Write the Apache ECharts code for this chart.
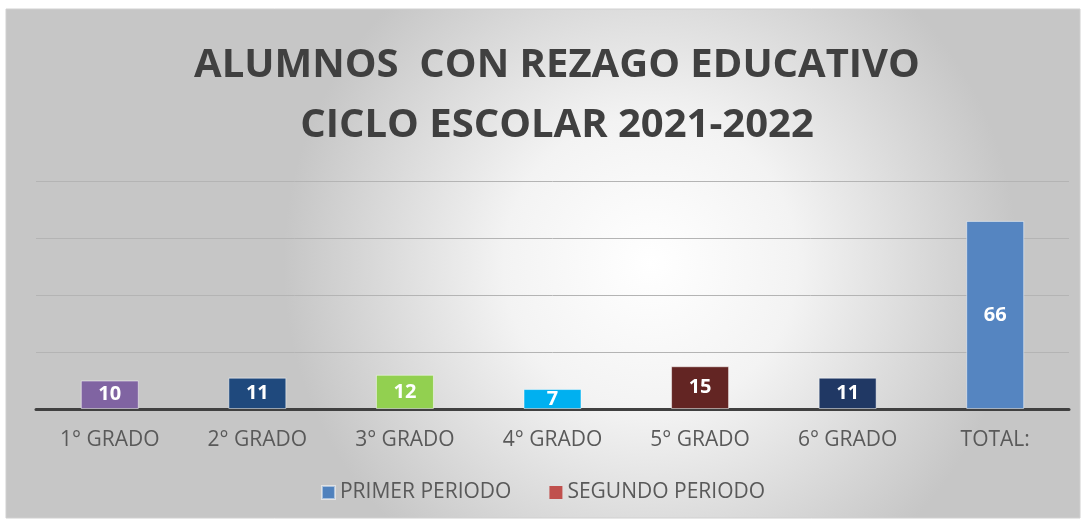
<!DOCTYPE html>
<html>
<head>
<meta charset="utf-8">
<script src="https://cdn.jsdelivr.net/npm/echarts@6/dist/echarts.min.js"></script>
<style>
  html, body { margin: 0; padding: 0; background: #fff; }
  #main { width: 1086px; height: 524px; }
</style>
</head>
<body>
<div id="main"></div>
<script>
let categories = ['1° GRADO', '2° GRADO', '3° GRADO', '4° GRADO', '5° GRADO', '6° GRADO', 'TOTAL:'];
let primerPeriodo = [10, 11, 12, 7, 15, 11, 66];
let segundoPeriodo = [];
let barColors = ['#8064a2', '#1f497d', '#92d050', '#00b0f0', '#632523', '#203864', '#5585c1'];

let chart = echarts.init(document.getElementById('main'));

let option = {
  backgroundColor: '#ffffff',
  graphic: [
    {
      type: 'rect',
      z: -10,
      shape: { x: 6, y: 9, width: 1074, height: 509 },
      style: {
        fill: {
          type: 'radial', x: 0.6, y: 0.5, r: 0.72,
          colorStops: [
            { offset: 0, color: '#ffffff' },
            { offset: 0.4, color: '#f3f3f3' },
            { offset: 1, color: '#c6c6c6' }
          ]
        },
        stroke: '#d0d0d0',
        lineWidth: 1
      }
    }
  ],
  title: {
    text: 'ALUMNOS  CON REZAGO EDUCATIVO\nCICLO ESCOLAR 2021-2022',
    left: 552,
    textAlign: 'center',
    top: 31,
    textStyle: {
      fontFamily: 'Open Sans',
      fontWeight: 'bold',
      fontSize: 40,
      lineHeight: 60,
      color: '#404040'
    }
  },
  legend: {
    data: ['PRIMER PERIODO', 'SEGUNDO PERIODO'],
    bottom: 16,
    left: 'center',
    icon: 'rect',
    itemWidth: 13,
    itemHeight: 13,
    itemGap: 38,
    textStyle: { fontFamily: 'Open Sans', fontSize: 21, color: '#595959' }
  },
  grid: {
    left: 36,
    right: 17,
    top: 181,
    bottom: 115
  },
  xAxis: {
    type: 'category',
    data: categories,
    axisLine: { lineStyle: { color: '#404040', width: 3 } },
    axisTick: { show: false },
    axisLabel: {
      fontFamily: 'Open Sans',
      fontSize: 21,
      color: '#595959',
      margin: 21
    }
  },
  yAxis: {
    type: 'value',
    min: 0,
    max: 80,
    interval: 20,
    axisLabel: { show: false },
    axisLine: { show: false },
    splitLine: { lineStyle: { color: '#b4b4b4', width: 1 } }
  },
  series: [
    {
      name: 'PRIMER PERIODO',
      type: 'bar',
      barWidth: 58,
      barGap: '-100%',
      data: primerPeriodo.map(function (v, i) {
        return { value: v, itemStyle: { color: barColors[i] } };
      }),
      itemStyle: {
        color: '#4f81bd',
        borderColor: 'rgba(255,255,255,0.5)',
        borderWidth: 1
      },
      label: {
        show: true,
        position: 'inside',
        fontFamily: 'Open Sans',
        fontWeight: 'bold',
        fontSize: 20,
        color: '#ffffff'
      }
    },
    {
      name: 'SEGUNDO PERIODO',
      type: 'bar',
      barWidth: 58,
      itemStyle: { color: '#c0504d' },
      data: segundoPeriodo
    }
  ]
};

chart.setOption(option);
</script>
</body>
</html>
